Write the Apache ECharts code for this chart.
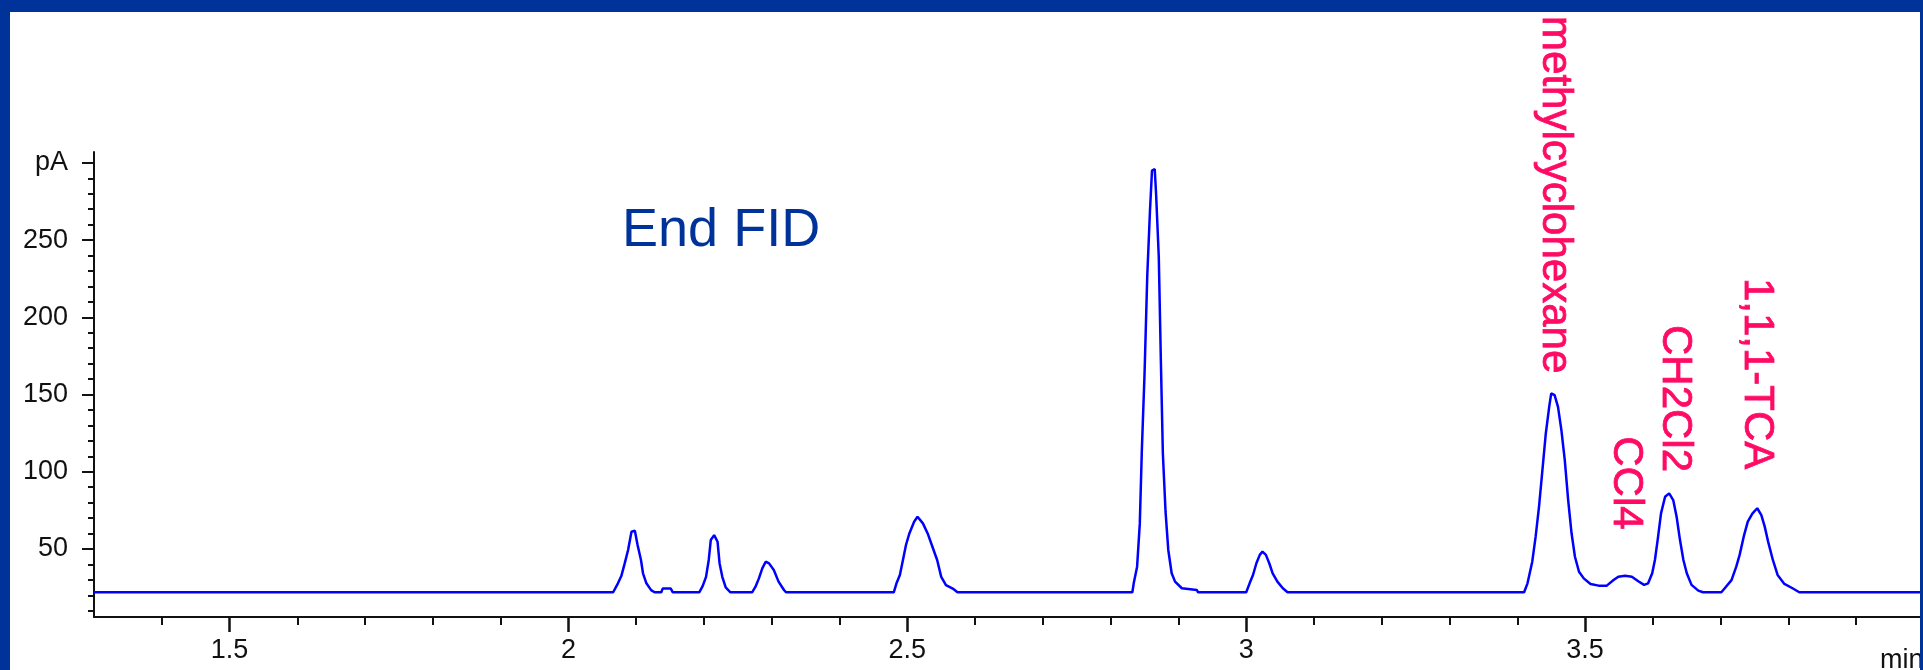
<!DOCTYPE html>
<html><head><meta charset="utf-8">
<script src="https://cdn.jsdelivr.net/npm/echarts@6/dist/echarts.min.js"></script>
<style>html,body{margin:0;padding:0;background:#fff;overflow:hidden;}#c{width:1923px;height:670px;}</style>
</head><body><div id="c"></div>
<script>
// Chromatogram trace (retention time in min, signal in pA)
const retentionTime = [1.300,2.000,
 2.066,2.073,2.078,2.083,2.088,2.093,2.098,2.102,2.107,2.110,2.115,2.122,2.127,2.137,2.139,2.151,2.154,
 2.193,2.198,2.203,2.207,2.210,2.215,2.220,2.223,2.227,2.232,2.239,
 2.271,2.276,2.281,2.286,2.291,2.296,2.303,2.310,2.318,2.321,
 2.480,2.484,2.489,2.493,2.498,2.503,2.510,2.515,2.523,2.530,2.537,2.544,2.550,2.557,2.567,2.574,
 2.832,2.834,2.839,2.843,2.846,2.850,2.854,2.858,2.861,2.865,2.867,2.871,2.874,2.877,2.881,2.885,2.890,2.895,2.905,2.927,2.929,
 3.000,3.005,3.010,3.015,3.020,3.024,3.029,3.034,3.039,3.046,3.054,3.061,
 3.410,3.415,3.422,3.427,3.432,3.437,3.442,3.447,3.450,3.455,3.460,3.465,3.470,3.475,3.480,3.485,3.491,3.498,3.508,3.520,3.532,
 3.542,3.549,3.559,3.569,3.579,3.587,3.593,
 3.599,3.603,3.607,3.612,3.618,3.624,3.630,3.635,3.640,3.645,3.650,3.657,3.667,3.674,
 3.701,3.706,3.716,3.723,3.728,3.734,3.740,3.747,3.754,3.760,3.765,3.770,3.777,3.784,3.794,3.806,3.816,4.000];
const signalPA = [22,22,
 22,27.8,32.5,40.7,49.4,61.2,61.8,52.6,42.9,34.3,27.8,23.4,22,22,24.4,24.4,22,
 22,26,32,42.9,55.8,59,54.7,40.7,32,25.1,22,
 22,25.6,31,37.5,41.8,40.7,36.4,28.9,23.5,22,
 22,27.8,33.2,41.8,52.6,60.1,67.7,70.9,66.6,60.1,51.5,42.9,32,26.7,24.4,22,
 22,27.8,38.6,66.6,114,163.6,227,269,295,296,280,239,173,112,74,49.4,34.3,28.9,24.6,23.5,22,
 22,27.8,33.2,40.8,46.2,48.3,46.2,40.8,34.3,28.9,24.6,22,
 22,27.8,41.8,58,77.4,101,124.8,142,150.7,149.6,142,127,107.6,81.7,60.2,45,35.3,31,27.4,26.3,26.3,
 29.9,32.1,32.7,32.1,29,26.8,27.8,
 34.3,42.9,55.8,73.1,83.8,86,81.7,70.9,55.8,42.9,34.3,26.8,23.1,22,
 22,24.6,29.9,38.6,46.2,58,67.7,73.1,76.4,72,64.5,54.8,42.9,33.2,27.4,24.6,22,22];

// Axis ticks
const xMinorTicks = [1.4,1.6,1.7,1.8,1.9,2.1,2.2,2.3,2.4,2.6,2.7,2.8,2.9,3.1,3.2,3.3,3.4,3.6,3.7,3.8,3.9];
const xLabelTicks = [1.5,2,2.5,3,3.5];
const yMinorTicks = [10,20,30,40,60,70,80,90,110,120,130,140,160,170,180,190,210,220,230,240,260,270,280,290];
const yLabelTicks = [50,100,150,200,250,300];

// Peak annotations: name, retention time of label, signal at label top
const peakNames = ['methylcyclohexane','CCl4','CH2Cl2','1,1,1-TCA'];
const peakLabelTime = [3.4555,3.5598,3.6314,3.7531];
const peakLabelTop = [395,123,195,225.5];

const FONT = '"Liberation Sans", Arial, Helvetica, sans-serif';
const AXIS = '#111';
const chart = echarts.init(document.getElementById('c'), null, {renderer:'canvas'});
const data = retentionTime.map((t,i)=>[t, signalPA[i]]);

const xBase = {type:'value', min:1.3, max:4.0, position:'bottom', splitLine:{show:false}};
const yBase = {type:'value', min:6, max:307, position:'left', splitLine:{show:false}};

chart.setOption({
  animation:false,
  backgroundColor:'#ffffff',
  grid:{left:94, top:152, right:-1, bottom:53, containLabel:false, outerBoundsMode:'none'},
  xAxis:[
    Object.assign({}, xBase, {axisLine:{show:true, onZero:false, lineStyle:{color:AXIS, width:2}},
      axisTick:{show:true, customValues:xMinorTicks, length:8, lineStyle:{color:AXIS, width:2}},
      axisLabel:{show:false}}),
    Object.assign({}, xBase, {axisLine:{show:false, onZero:false},
      axisTick:{show:true, customValues:xLabelTicks, length:15, lineStyle:{color:AXIS, width:2.5}},
      axisLabel:{show:true, customValues:xLabelTicks, margin:20, fontSize:27, fontFamily:FONT, color:'#111'}})
  ],
  yAxis:[
    Object.assign({}, yBase, {axisLine:{show:true, onZero:false, lineStyle:{color:AXIS, width:2}},
      axisTick:{show:true, customValues:yMinorTicks, length:6, lineStyle:{color:AXIS, width:2}},
      axisLabel:{show:false}}),
    Object.assign({}, yBase, {axisLine:{show:false, onZero:false},
      axisTick:{show:true, customValues:yLabelTicks, length:12, lineStyle:{color:AXIS, width:2}},
      axisLabel:{show:true, customValues:yLabelTicks, margin:26, fontSize:27, fontFamily:FONT, color:'#111',
        formatter:v=> v===300 ? 'pA' : String(v)}})
  ],
  series:[{type:'line', xAxisIndex:0, yAxisIndex:0, data:data, symbol:'none', showSymbol:false,
    lineStyle:{color:'#0000ff', width:2.5}, silent:true}]
});

const g = [];
peakNames.forEach((name,i)=>{
  const p = chart.convertToPixel({xAxisIndex:0, yAxisIndex:0}, [peakLabelTime[i], peakLabelTop[i]]);
  g.push({type:'text', x:p[0], y:p[1], rotation:-Math.PI/2, z:20,
    style:{text:name, fill:'#ff0a64', stroke:'#ff0a64', lineWidth:0.8, font:'42px '+FONT, align:'left', verticalAlign:'middle'}});
});
const fid = chart.convertToPixel({xAxisIndex:0, yAxisIndex:0}, [2.0791, 255.8]);
g.push({type:'text', x:fid[0], y:fid[1], z:20,
  style:{text:'End FID', fill:'#003399', font:'54px '+FONT, align:'left', verticalAlign:'middle'}});
g.push({type:'text', x:1880, y:661, z:20,
  style:{text:'min', fill:'#111', font:'27px '+FONT, align:'left', verticalAlign:'middle'}});
// blue slide frame
g.push({type:'rect', shape:{x:0,y:0,width:10,height:670}, style:{fill:'#003399'}, z:100});
g.push({type:'rect', shape:{x:0,y:0,width:1923,height:12}, style:{fill:'#003399'}, z:100});
g.push({type:'rect', shape:{x:1920,y:0,width:3,height:670}, style:{fill:'#003399'}, z:100});
chart.setOption({graphic:g});
</script>
</body></html>
